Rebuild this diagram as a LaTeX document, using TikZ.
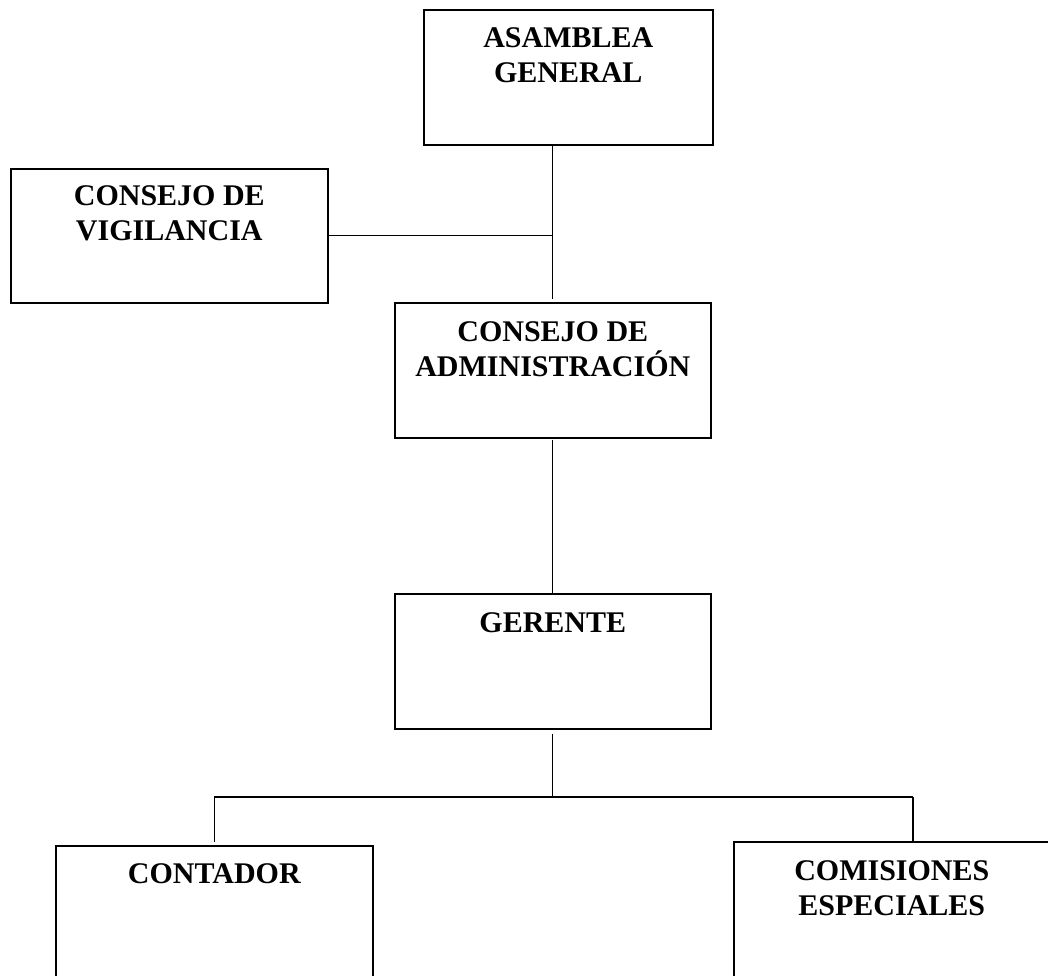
\documentclass[tikz,border=0pt]{standalone}
\usepackage{fontspec}
\setmainfont{Liberation Serif}
\newcommand\twoline[2]{\vtop{\baselineskip=35pt\lineskiplimit=0pt\halign{\hfil##\hfil\cr#1\cr#2\cr}}}
\tikzset{
  orgbox/.style={draw=black, line width=1.6pt, rectangle, inner sep=0pt, anchor=north west},
  orgtext/.style={anchor=base, inner sep=0pt, font=\fontsize{30}{35}\selectfont\bfseries},
  link/.style={draw=black, line width=1.3pt}
}
\begin{document}
\begin{tikzpicture}[x=1pt, y=-1pt]
\useasboundingbox (0,0) rectangle (1048,975);
\clip (0,0) rectangle (1048,975);
% boxes
\node[orgbox, minimum width=289pt, minimum height=135pt] (ag) at (423,9) {};
\node[orgbox, minimum width=317pt, minimum height=134pt] (cv) at (10,168) {};
\node[orgbox, minimum width=316pt, minimum height=135pt] (ca) at (394,302) {};
\node[orgbox, minimum width=316pt, minimum height=135pt] (ge) at (394,593) {};
\node[orgbox, minimum width=317pt, minimum height=160pt] (co) at (55,845) {};
\node[orgbox, minimum width=316pt, minimum height=160pt] (cs) at (733,841) {};
% texts
\node[orgtext] (ag-t) at ([yshift=-38pt]ag.north) {\twoline{ASAMBLEA}{GENERAL}};
\node[orgtext] (cv-t) at ([yshift=-37pt]cv.north) {\twoline{CONSEJO DE}{VIGILANCIA}};
\node[orgtext] (ca-t) at ([yshift=-39pt]ca.north) {\twoline{CONSEJO DE}{ADMINISTRACIÓN}};
\node[orgtext] (ge-t) at ([yshift=-39pt]ge.north) {GERENTE};
\node[orgtext] (co-t) at ([yshift=-38pt]co.north) {CONTADOR};
\node[orgtext] (cs-t) at ([yshift=-39pt]cs.north) {\twoline{COMISIONES}{ESPECIALES}};
% connectors
\coordinate (top) at (ca.north |- ag.south);
\coordinate (mid) at (ca.north |- cv.east);
\draw[link, shorten >=3pt] (top) -- (ca.north);
\draw[link] (cv.east) -- (mid);
\draw[link, shorten <=1pt] (ca.south) -- (ge.north);
\coordinate (bus) at (ge.south |- 0,797);
\coordinate (busL) at (co.north |- bus);
\coordinate (busR) at (913,797);
\coordinate (dropR) at (busR |- cs.north);
\draw[link, shorten <=4pt] (ge.south) -- (bus);
\draw[link] (busL) -- (busR);
\draw[link, shorten >=3pt] (busL) -- (co.north);
\draw[link] (busR) -- (dropR);
\end{tikzpicture}
\end{document}
